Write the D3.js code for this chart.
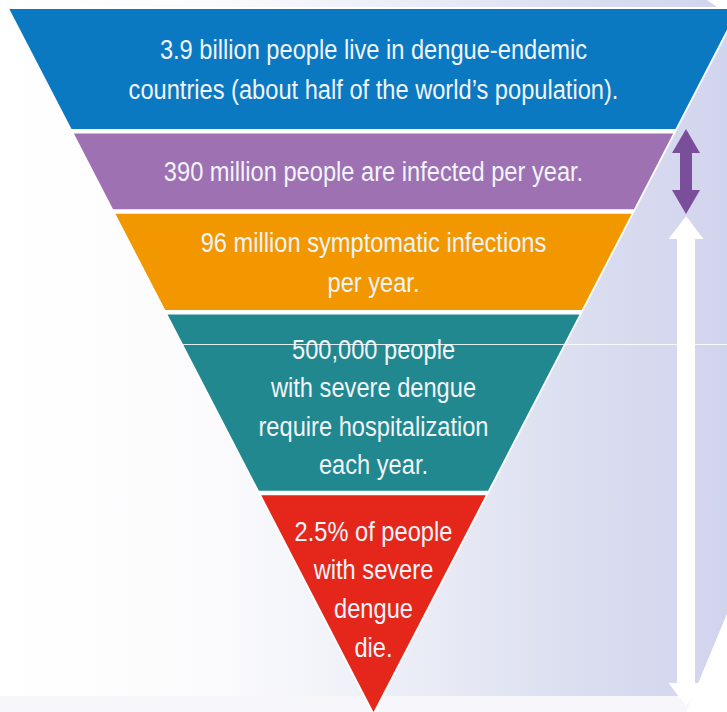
<!DOCTYPE html>
<html>
<head>
<meta charset="utf-8">
<script src="https://cdn.jsdelivr.net/npm/d3@7"></script>
<style>
  html, body { margin: 0; padding: 0; background: #ffffff; }
  svg { display: block; }
</style>
</head>
<body>
<div id="chart"></div>
<script>
// ---- Data: the dengue burden funnel, widest stage first ----
const stages = ["Endemic population", "Infections", "Symptomatic infections", "Severe dengue", "Deaths"];
const stageLabels = [
  ["3.9 billion people live in dengue-endemic", "countries (about half of the world\u2019s population)."],
  ["390 million people are infected per year."],
  ["96 million symptomatic infections", "per year."],
  ["500,000 people", "with severe dengue", "require hospitalization", "each year."],
  ["2.5% of people", "with severe", "dengue", "die."]
];
const stageColors = ["#0b78c2", "#9e71b3", "#f39700", "#21888f", "#e5261b"];

// ---- Layout ----
const W = 727, H = 712;
const bandWeights = [119, 78, 98, 176, 213];   // relative band heights
const gap = 4.5;                                // white gap between bands
const funnelTop = 9, apexY = 712, centerX = 373.5;
const halfSlope = 0.518;                        // half-width gained per px upward
const textCenterFrac = [0.5, 0.5, 0.5, 0.52, 0.43];
const lineHeights = [40.5, 39.5, 40, 38.5, 38.7];
const fontSize = 28, textSquash = 0.845;

const svg = d3.select("#chart").append("svg")
  .attr("width", W).attr("height", H)
  .attr("viewBox", `0 0 ${W} ${H}`);

const defs = svg.append("defs");
const bg = defs.append("linearGradient").attr("id", "bgGrad")
  .attr("x1", 0).attr("x2", 1).attr("y1", 0).attr("y2", 0);
[[0, "#ffffff"], [0.3, "#fbfbfd"], [0.55, "#eceef7"], [0.78, "#dcdff0"], [1, "#d1d4ed"]]
  .forEach(([o, c]) => bg.append("stop").attr("offset", o).attr("stop-color", c));

// backdrop panel with bevelled lower-right corner
svg.append("rect").attr("width", W).attr("height", H).attr("fill", "#ffffff");
svg.append("path")
  .attr("d", d3.line()([[0, 0], [707, 0], [727, 14], [727, 614], [693, 696], [0, 696]]) + "Z")
  .attr("fill", "url(#bgGrad)");
svg.append("rect").attr("x", 0).attr("y", 696).attr("width", W).attr("height", H - 696)
  .attr("fill", "#f7f7fb");

// vertical band scale
const cum = [0];
bandWeights.forEach(w => cum.push(cum[cum.length - 1] + w));
const y = d3.scaleLinear().domain([0, cum[cum.length - 1]]).range([funnelTop, apexY]);
const halfW = yy => (apexY - yy) * halfSlope;

// white outline behind the whole funnel
const outline = 2;
svg.append("path")
  .attr("d", d3.line()([
    [centerX - halfW(funnelTop - outline) - outline, funnelTop - outline],
    [centerX + halfW(funnelTop - outline) + outline, funnelTop - outline],
    [centerX, apexY + outline * 2]
  ]) + "Z")
  .attr("fill", "#ffffff");

const bands = stages.map((name, i) => {
  const top = y(cum[i]) + (i === 0 ? 0 : gap / 2);
  const bottom = i === stages.length - 1 ? apexY : y(cum[i + 1]) - gap / 2;
  return { name, i, top, bottom, color: stageColors[i], lines: stageLabels[i] };
});

const g = svg.append("g");
g.selectAll("path.band").data(bands).join("path")
  .attr("class", "band")
  .attr("fill", d => d.color)
  .attr("d", d => {
    const pts = [
      [centerX - halfW(d.top), d.top],
      [centerX + halfW(d.top), d.top],
      [centerX + halfW(d.bottom), d.bottom],
      [centerX - halfW(d.bottom), d.bottom]
    ];
    return d3.line()(pts) + "Z";
  });

// faint horizontal crease across the panel
svg.append("line")
  .attr("x1", 181).attr("x2", W).attr("y1", 344.5).attr("y2", 344.5)
  .attr("stroke", "#ffffff").attr("stroke-opacity", 0.85).attr("stroke-width", 1);

// stage labels
bands.forEach(d => {
  const mid = d.top + (d.bottom - d.top) * textCenterFrac[d.i];
  const n = d.lines.length;
  d.lines.forEach((line, k) => {
    const ly = mid + (k - (n - 1) / 2) * lineHeights[d.i];
    svg.append("text")
      .attr("transform", `translate(${centerX},${ly}) scale(${textSquash},1)`)
      .attr("text-anchor", "middle")
      .attr("dy", "0.36em")
      .attr("font-family", "'Liberation Sans', Arial, sans-serif")
      .attr("font-size", fontSize)
      .attr("fill", "#f1f4f9")
      .text(line);
  });
});

// arrows on the right
const arrowX = 686;
function doubleArrow(yTop, yBot, headW, headL, shaftW) {
  const hw = headW / 2, sw = shaftW / 2;
  const pts = [
    [arrowX, yTop], [arrowX + hw, yTop + headL], [arrowX + sw, yTop + headL],
    [arrowX + sw, yBot - headL], [arrowX + hw, yBot - headL], [arrowX, yBot],
    [arrowX - hw, yBot - headL], [arrowX - sw, yBot - headL],
    [arrowX - sw, yTop + headL], [arrowX - hw, yTop + headL]
  ];
  return d3.line()(pts) + "Z";
}
svg.append("path").attr("d", doubleArrow(129, 214, 28, 24, 12)).attr("fill", "#7b4e9b");
svg.append("path").attr("d", doubleArrow(216, 706, 35, 23, 18)).attr("fill", "#ffffff");

// white bevel in the lower-right corner
svg.append("path")
  .attr("d", d3.line()([[727, 614], [727, 712], [686, 712], [693, 696]]) + "Z")
  .attr("fill", "#ffffff");
</script>
</body>
</html>
